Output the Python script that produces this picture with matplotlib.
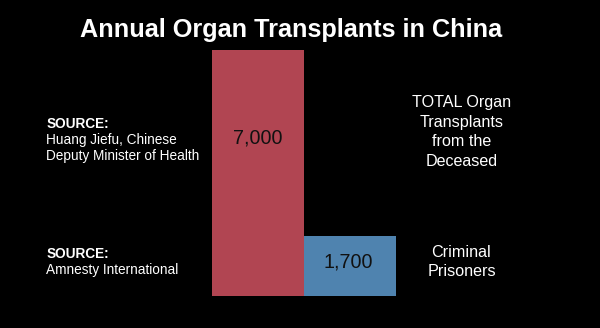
import matplotlib.pyplot as plt

# data
categories = ["TOTAL Organ\nTransplants\nfrom the\nDeceased", "Criminal\nPrisoners"]
values = [7000, 1700]
value_labels = ["7,000", "1,700"]
sources = ["Huang Jiefu, Chinese\nDeputy Minister of Health", "Amnesty International"]
colors = ["#B14552", "#4F83AF"]

W, H = 600, 328
plt.rcParams["font.family"] = ["Liberation Sans", "DejaVu Sans"]

fig = plt.figure(figsize=(W / 100, H / 100), dpi=100, facecolor="black")


def px(x, y):
    # pixel coords (top-left origin) -> figure fraction
    return x / W, 1 - y / H


# ----------------------------
# bars
# ----------------------------
bar_left, bar_right = 212, 396
bar_bottom, bar_top = 295.7, 50
ax = fig.add_axes([bar_left / W, 1 - bar_bottom / H,
                   (bar_right - bar_left) / W, (bar_bottom - bar_top) / H])
ax.set_facecolor("black")
ax.bar(range(len(values)), values, width=1.0, align="edge", color=colors)
ax.set_xlim(0, len(values))
ax.set_ylim(0, max(values))
ax.axis("off")

# value labels inside bars
label_pos = [(257.7, 143.3), (348.5, 267.3)]
for (x, y), txt in zip(label_pos, value_labels):
    fig.text(*px(x, y), txt, color="#111111", fontsize=14.2,
             ha="center", va="baseline")

# ----------------------------
# title
# ----------------------------
fig.text(*px(291, 37), "Annual Organ Transplants in China", color="white",
         fontsize=18.2, fontweight="bold", ha="center", va="baseline")

# ----------------------------
# sources (left)
# ----------------------------
src_y = [128.3, 257.7]
for y, src in zip(src_y, sources):
    fig.text(*px(46.5, y), "SOURCE:", color="white", fontsize=9.8,
             fontweight="bold", ha="left", va="baseline")
    for i, line in enumerate(src.split("\n")):
        fig.text(*px(46.5, y + 16 * (i + 1)), line, color="white",
                 fontsize=9.8, ha="left", va="baseline")

# ----------------------------
# category labels (right)
# ----------------------------
cat_y = [107.3, 256.7]
for y, cat in zip(cat_y, categories):
    for i, line in enumerate(cat.split("\n")):
        fig.text(*px(461.5, y + 19.5 * i), line, color="white",
                 fontsize=11.6, ha="center", va="baseline")

fig.savefig("out.png", dpi=100, facecolor="black")
